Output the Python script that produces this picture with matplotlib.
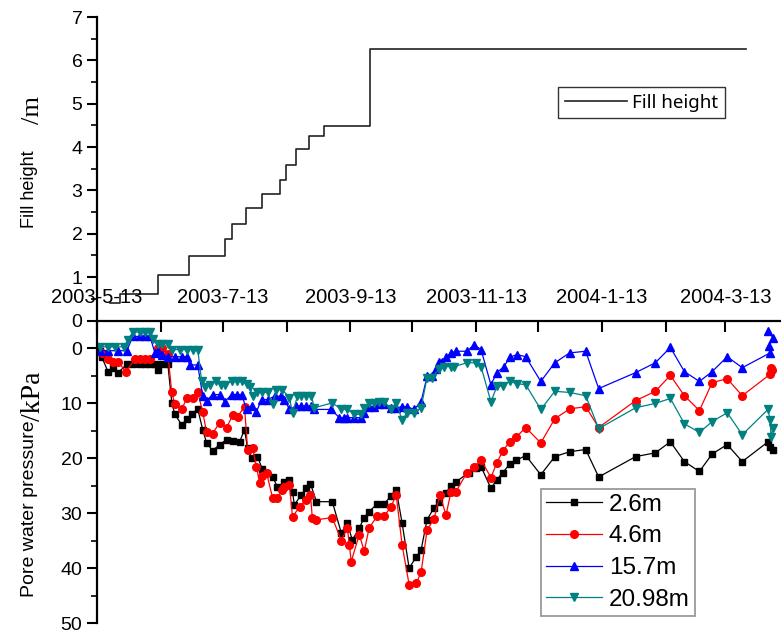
import numpy as np
import matplotlib
matplotlib.use('Agg')
import matplotlib.pyplot as plt
import matplotlib.dates as mdates
from matplotlib.ticker import MultipleLocator, FuncFormatter
from datetime import datetime

plt.rcParams['font.family'] = ['Liberation Sans', 'DejaVu Sans']

START = datetime(2003, 5, 13)

# fill height steps (days after 2003-5-13, m)
fill_days = [6.3, 11.1, 29.5, 44.7, 62.3, 65.5, 72.4, 80.0, 88.6, 91.5, 96.6,
             103.1, 110.4, 132.5, 315.1]
fill_height = [0.40, 0.60, 1.05, 1.48, 1.87, 2.22, 2.60, 2.92, 3.23, 3.59, 3.96,
               4.26, 4.48, 6.26, 6.26]

# pore water pressure, depth 2.6 m
p26_days = [1.5, 2.4, 5.3, 7.7, 10.2, 14.5, 17.4, 20.8, 23.2, 25.7, 28.1, 29.5,
            31.5, 34.4, 36.3, 37.8, 41.1, 43.6, 46.0, 48.9, 51.3, 53.2, 56.1,
            59.5, 62.9, 65.8, 69.2, 71.6, 73.1, 75.0, 77.9, 80.3, 85.2, 87.6,
            91.0, 93.4, 94.9, 95.8, 99.2, 101.6, 103.6, 106.5, 114.2, 118.6,
            121.5, 123.9, 127.3, 129.7, 132.1, 136.0, 139.4, 142.8, 145.2,
            148.1, 151.5, 154.9, 157.3, 160.2, 163.6, 166.0, 169.4, 171.8,
            174.2, 180.5, 183.9, 186.4, 191.2, 194.1, 197.0, 200.4, 203.3,
            208.1, 215.4, 222.2, 229.4, 237.2, 243.5, 261.4, 271.0, 278.3,
            285.1, 292.4, 298.6, 305.9, 313.2, 325.7, 326.7, 328.1]
p26_kpa = [0.5, 1.6, 4.2, 3.5, 4.4, 2.9, 2.9, 2.9, 2.9, 2.9, 2.9, 4.0,
           2.9, 2.9, 9.9, 12.0, 13.9, 12.9, 12.0, 11.0, 14.8, 17.2, 18.6,
           17.5, 16.6, 16.8, 17.0, 14.8, 18.2, 19.9, 19.7, 22.0, 23.4, 25.2,
           24.3, 23.9, 26.1, 28.5, 26.6, 25.5, 24.6, 27.9, 27.9, 33.6,
           31.8, 34.9, 32.7, 30.8, 29.7, 28.3, 28.3, 26.8, 25.7,
           31.8, 40.0, 38.0, 36.7, 31.2, 29.0, 27.9, 26.3, 25.0,
           24.3, 22.6, 21.7, 21.5, 25.5, 23.9, 22.6, 21.0, 20.4,
           19.5, 23.0, 19.7, 18.8, 18.4, 23.4, 19.7, 19.0, 17.0,
           20.6, 22.4, 19.2, 17.5, 20.6, 17.0, 18.0, 18.4]

# depth 4.6 m
p46_days = [2.4, 5.3, 7.7, 10.2, 14.0, 18.4, 20.8, 23.2, 25.7, 29.5, 31.5,
            34.4, 36.3, 37.8, 41.1, 43.6, 46.5, 48.9, 51.3, 53.2, 56.1, 59.5,
            62.9, 65.8, 68.2, 71.6, 73.1, 75.5, 77.4, 78.9, 80.3, 82.3, 85.2,
            87.6, 90.0, 91.0, 93.4, 94.9, 98.3, 101.6, 103.6, 104.5, 106.5,
            114.2, 118.6, 121.5, 122.5, 123.4, 127.3, 129.7, 132.1, 136.0,
            139.4, 142.8, 145.2, 148.1, 151.5, 154.9, 157.3, 160.2, 163.6,
            166.5, 169.4, 171.8, 174.2, 179.6, 183.0, 186.4, 191.2, 194.1,
            197.0, 200.4, 203.3, 208.1, 215.4, 222.2, 229.4, 237.2, 243.5,
            261.4, 271.0, 278.3, 285.1, 292.4, 298.6, 305.9, 313.2, 326.7,
            327.2, 327.7]
p46_kpa = [0.8, 2.0, 2.4, 2.4, 4.2, 2.0, 2.0, 2.0, 2.0, 0.0, 0.0,
           1.0, 8.0, 10.2, 11.1, 9.0, 9.0, 8.0, 11.5, 15.3, 15.5, 13.5,
           14.4, 12.2, 12.4, 10.6, 18.4, 18.2, 21.5, 24.5, 23.3, 22.6, 27.2,
           27.2, 25.8, 25.2, 24.8, 30.7, 28.8, 27.6, 26.6, 30.8, 31.2,
           30.8, 35.0, 32.7, 35.8, 38.8, 33.9, 36.9, 32.7, 30.5,
           30.5, 28.8, 26.6, 35.8, 43.0, 42.8, 40.8, 33.1, 31.0,
           26.6, 30.4, 26.1, 26.1, 22.6, 21.5, 20.3, 23.5, 20.8,
           18.6, 17.0, 16.2, 14.4, 17.2, 12.8, 11.0, 10.6, 14.4,
           9.5, 7.8, 4.9, 8.6, 11.3, 6.2, 5.5, 8.6, 4.7,
           3.5, 4.0]

# depth 15.7 m
p157_days = [1.5, 5.3, 10.2, 14.5, 17.4, 20.8, 23.2, 25.7, 28.1, 29.5, 31.5,
             34.4, 37.8, 41.1, 43.6, 45.0, 48.9, 51.3, 53.2, 56.1, 59.5, 62.0,
             65.3, 67.8, 70.2, 72.6, 75.0, 77.4, 79.9, 82.8, 86.2, 89.5, 91.0,
             93.4, 96.8, 99.2, 101.6, 104.1, 105.5, 113.7, 117.6, 120.0,
             121.5, 124.9, 128.3, 129.7, 132.1, 134.6, 137.0, 139.4, 142.8,
             145.2, 148.1, 150.5, 153.9, 157.3, 160.2, 162.6, 164.6, 166.0,
             167.5, 169.4, 171.8, 174.2, 179.6, 183.0, 186.4, 191.2, 194.1,
             197.5, 200.4, 203.8, 208.1, 215.4, 222.2, 229.4, 237.2, 243.5,
             261.4, 271.0, 278.3, 285.1, 292.4, 298.6, 305.9, 313.2, 326.7,
             326.2, 328.1, 325.7]
p157_kpa = [0.4, 0.4, 0.4, 0.4, -2.2, -2.2, -2.2, -2.2, 0.8, 0.5, 1.2,
            1.5, 1.5, 1.5, 1.5, 3.0, 3.0, 8.6, 9.5, 8.4, 8.4, 9.7,
            8.4, 8.4, 8.4, 11.1, 10.5, 11.5, 9.3, 9.3, 8.7, 8.7, 9.3,
            11.1, 10.5, 10.5, 10.5, 10.5, 11.1, 11.1, 12.6, 12.6,
            12.6, 12.6, 12.6, 11.7, 10.6, 10.6, 10.2, 10.2, 10.8,
            10.8, 10.6, 10.6, 11.1, 9.7, 5.1, 5.1, 3.8, 2.4,
            2.4, 1.6, 0.8, 0.5, 0.5, -0.7, 0.2, 6.6, 4.4,
            3.3, 1.6, 1.1, 1.5, 6.0, 2.6, 0.8, 0.5, 7.3,
            4.4, 2.6, -0.2, 4.2, 6.0, 4.2, 1.5, 3.5, 0.8,
            -0.4, -2.0, -3.1]

# depth 20.98 m
p2098_days = [1.5, 5.3, 8.7, 13.0, 15.0, 17.4, 20.8, 23.2, 25.7, 27.1, 29.5,
              31.5, 34.4, 36.3, 40.2, 43.6, 46.5, 48.9, 50.8, 52.3, 55.0,
              58.0, 60.0, 62.0, 65.3, 67.8, 70.2, 72.6, 74.1, 75.5, 77.9,
              80.3, 82.8, 85.2, 87.1, 90.0, 93.4, 94.9, 97.3, 99.2, 101.6,
              104.1, 105.5, 114.2, 118.6, 121.5, 124.9, 128.3, 129.7, 132.1,
              134.6, 137.0, 139.4, 142.8, 145.2, 148.1, 150.5, 153.9, 157.3,
              160.2, 162.6, 166.0, 168.4, 171.8, 173.3, 179.6, 183.9, 186.4,
              191.2, 194.1, 197.0, 200.4, 203.8, 208.1, 215.4, 222.2, 229.4,
              237.2, 243.5, 261.4, 271.0, 278.3, 285.1, 292.4, 298.6, 305.9,
              313.2, 325.7, 326.7, 327.2, 328.1]
p2098_kpa = [-0.3, -0.3, -0.3, -0.3, -1.6, -3.0, -3.0, -3.0, -3.0, -1.8, -0.9,
             -0.9, -0.9, 0.2, 0.2, 0.2, 0.2, 0.2, 6.0, 7.0, 6.6,
             6.0, 6.6, 6.6, 6.0, 6.0, 6.0, 6.5, 7.1, 8.7, 8.0,
             8.0, 8.0, 10.2, 7.5, 7.5, 9.0, 11.7, 8.7, 8.7, 8.7,
             8.7, 10.8, 9.9, 11.1, 11.1, 12.0, 12.0, 10.8, 9.9,
             9.9, 9.7, 9.7, 11.1, 9.9, 13.0, 11.7, 11.7, 10.8,
             5.3, 5.3, 3.8, 3.3, 3.3, 3.3, 2.6, 2.6, 3.3,
             9.7, 6.9, 6.8, 6.0, 6.4, 6.6, 11.1, 7.8, 8.0,
             8.6, 14.6, 10.8, 10.0, 9.1, 13.7, 15.3, 13.3, 11.7,
             15.7, 11.1, 13.0, 16.2, 14.4]


def to_num(days):
    return mdates.date2num(START) + np.array(days)


def date_label(v, pos):
    d = mdates.num2date(v)
    return f"{d.year}-{d.month}-{d.day}"


W, H = 781, 632
fig = plt.figure(figsize=(W / 100, H / 100), dpi=100)
split = 320.5
ax_top = fig.add_axes([97 / W, 1 - split / H, 684 / W, (split - 17) / H])
ax_bot = fig.add_axes([97 / W, 1 - 623 / H, 684 / W, (623 - split) / H])

xmin, xmax = to_num([0, 332])

# ---- top panel: fill height
ax_top.plot(to_num(fill_days), fill_height, drawstyle='steps-post',
            color='#222222', lw=1.2, label='Fill height')
ax_top.set_xlim(xmin, xmax)
ax_top.set_ylim(0, 7)
ax_top.yaxis.set_major_locator(MultipleLocator(1))
ax_top.yaxis.set_minor_locator(MultipleLocator(0.5))
for s in ['top', 'right', 'bottom']:
    ax_top.spines[s].set_visible(False)
ax_top.spines['left'].set_linewidth(1.6)
ax_top.tick_params(axis='x', which='both', bottom=False, labelbottom=False)
ax_top.tick_params(axis='y', which='major', length=7, width=1.5, labelsize=14)
ax_top.tick_params(axis='y', which='minor', length=4, width=1.2)
leg1 = ax_top.legend(loc='upper right', bbox_to_anchor=(0.918, 0.769),
                     borderaxespad=0, frameon=True, fancybox=False,
                     prop={'family': 'Noto Sans', 'size': 13.5},
                     handlelength=3.3, handletextpad=0.3, borderpad=0.35)
leg1.get_frame().set_edgecolor('black')
leg1.get_frame().set_linewidth(1.0)

# y labels: sans part plus serif unit, as two texts
fig.text(30 / W, 1 - 228 / H, 'Fill height', rotation=90, fontsize=13,
         ha='center', va='bottom')
fig.text(33 / W, 1 - 124 / H, '/m', rotation=90, fontsize=19,
         family='Liberation Serif', ha='center', va='bottom')
fig.text(30 / W, 1 - 597 / H, 'Pore water pressure', rotation=90, fontsize=14,
         ha='center', va='bottom')
fig.text(34 / W, 1 - 421 / H, '/kPa', rotation=90, fontsize=20,
         family='Liberation Serif', ha='center', va='bottom')

# ---- bottom panel: pore water pressure
series = [
    (p26_days, p26_kpa, 'black', 's', 5, '2.6m'),
    (p46_days, p46_kpa, '#ff0000', 'o', 5.5, '4.6m'),
    (p157_days, p157_kpa, '#0000ff', '^', 6, '15.7m'),
    (p2098_days, p2098_kpa, '#008080', 'v', 6, '20.98m'),
]
for days, vals, col, mk, ms, lab in series:
    ax_bot.plot(to_num(days), vals, color=col, marker=mk, markersize=ms,
                lw=0.9, label=lab)

ax_bot.set_xlim(xmin, xmax)
ax_bot.set_ylim(50, -5.1)
ax_bot.yaxis.set_major_locator(MultipleLocator(10))
ax_bot.yaxis.set_minor_locator(MultipleLocator(5))
ax_bot.xaxis.set_major_locator(mdates.MonthLocator(bymonth=[1, 3, 5, 7, 9, 11], bymonthday=13))
ax_bot.xaxis.set_minor_locator(mdates.MonthLocator(bymonth=[2, 4, 6, 8, 10, 12], bymonthday=13))
ax_bot.xaxis.set_major_formatter(FuncFormatter(date_label))
for s in ['right', 'bottom']:
    ax_bot.spines[s].set_visible(False)
ax_bot.spines['left'].set_linewidth(1.6)
ax_bot.spines['top'].set_linewidth(1.6)
ax_bot.tick_params(axis='x', which='both', top=True, bottom=False,
                   labeltop=True, labelbottom=False, direction='in')
ax_bot.tick_params(axis='x', which='major', length=8, width=1.5,
                   labelsize=14.5, pad=10)
ax_bot.tick_params(axis='x', which='minor', length=8, width=1.5)
ax_bot.tick_params(axis='y', which='major', length=7, width=1.5, labelsize=14)
ax_bot.tick_params(axis='y', which='minor', length=4, width=1.2)

leg2 = ax_bot.legend(loc='upper left', bbox_to_anchor=(0.649, 0.444),
                     borderaxespad=0, frameon=True, fancybox=False,
                     fontsize=17.5, numpoints=1, handlelength=2.3,
                     handletextpad=0.3, labelspacing=0.4, borderpad=0.2)
leg2.get_frame().set_edgecolor('#808080')
leg2.get_frame().set_linewidth(1.3)

fig.savefig('out.png', dpi=100)
